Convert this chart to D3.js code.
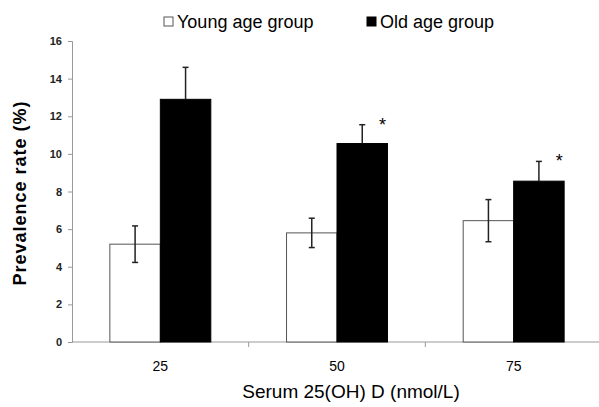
<!DOCTYPE html>
<html>
<head>
<meta charset="utf-8">
<script src="https://cdnjs.cloudflare.com/ajax/libs/d3/7.8.5/d3.min.js"></script>
<style>
body { margin: 0; background: #fff; }
text { font-family: Arial, "Liberation Sans", sans-serif; }
</style>
</head>
<body>
<div id="vis"></div>
<script>
// data
const doses = ["25", "50", "75"]
const groups = ["Young age group", "Old age group"]
const youngVals = [5.2, 5.8, 6.45]
const youngErr = [0.97, 0.78, 1.12]
const oldVals = [12.9, 10.55, 8.55]
const oldErr = [1.7, 1.0, 1.05]
const stars = [false, true, true]
const yTicks = [0, 2, 4, 6, 8, 10, 12, 14, 16]

const W = 599, H = 407
const margin = {left: 72, top: 41, right: -3, bottom: 65}

const svg = d3.select("#vis").append("svg")
    .attr("width", W).attr("height", H)

const x = d3.scaleBand().domain(doses)
    .range([margin.left, W - margin.right])
const x1 = d3.scaleBand().domain(groups)
    .range([0, x.bandwidth()]).paddingOuter(0.75).paddingInner(0)
const y = d3.scaleLinear().domain([0, 16])
    .range([H - margin.bottom, margin.top])

// y axis
const yAxis = svg.append("g")
    .attr("transform", `translate(${margin.left},0)`)
    .call(d3.axisLeft(y).tickValues(yTicks).tickSize(4).tickPadding(6))
yAxis.select(".domain").attr("stroke", "#999")
yAxis.selectAll(".tick line").attr("stroke", "#999")
yAxis.selectAll("text").attr("font-size", 11).attr("font-weight", "bold").attr("fill", "#222")

// x axis
svg.append("line")
    .attr("x1", margin.left).attr("x2", W)
    .attr("y1", y(0)).attr("y2", y(0))
    .attr("stroke", "#999")
svg.selectAll(".xtick").data(doses.slice(1)).enter().append("line")
    .attr("x1", d => x(d)).attr("x2", d => x(d))
    .attr("y1", y(0)).attr("y2", y(0) + 5)
    .attr("stroke", "#999")
svg.selectAll(".xlab").data(doses).enter().append("text")
    .attr("x", d => x(d) + x.bandwidth() / 2)
    .attr("y", y(0) + 29)
    .attr("text-anchor", "middle")
    .attr("font-size", 14)
    .attr("fill", "#000")
    .text(d => d)

const rows = doses.map((d, i) => ({
    dose: d,
    bars: [
        {g: groups[0], v: youngVals[i], e: youngErr[i], both: true},
        {g: groups[1], v: oldVals[i], e: oldErr[i], both: false}
    ],
    star: stars[i]
}))

const grp = svg.selectAll(".grp").data(rows).enter().append("g")
    .attr("transform", d => `translate(${x(d.dose)},0)`)

grp.selectAll("rect").data(d => d.bars).enter().append("rect")
    .attr("x", d => x1(d.g))
    .attr("width", x1.bandwidth())
    .attr("y", d => y(d.v))
    .attr("height", d => y(0) - y(d.v))
    .attr("fill", (d, i) => i === 0 ? "#fff" : "#000")
    .attr("stroke", (d, i) => i === 0 ? "#555" : "#000")
    .attr("stroke-width", 1)

// error bars
const eb = grp.selectAll(".eb").data(d => d.bars).enter().append("g")
eb.append("line")
    .attr("x1", d => x1(d.g) + x1.bandwidth() / 2)
    .attr("x2", d => x1(d.g) + x1.bandwidth() / 2)
    .attr("y1", d => y(d.v + d.e))
    .attr("y2", d => d.both ? y(d.v - d.e) : y(d.v))
    .attr("stroke", "#222").attr("stroke-width", 1.5)
eb.append("line")
    .attr("x1", d => x1(d.g) + x1.bandwidth() / 2 - 3)
    .attr("x2", d => x1(d.g) + x1.bandwidth() / 2 + 3)
    .attr("y1", d => y(d.v + d.e)).attr("y2", d => y(d.v + d.e))
    .attr("stroke", "#222").attr("stroke-width", 1.5)
eb.filter(d => d.both).append("line")
    .attr("x1", d => x1(d.g) + x1.bandwidth() / 2 - 3)
    .attr("x2", d => x1(d.g) + x1.bandwidth() / 2 + 3)
    .attr("y1", d => y(d.v - d.e)).attr("y2", d => y(d.v - d.e))
    .attr("stroke", "#222").attr("stroke-width", 1.5)

// significance stars
grp.filter(d => d.star).append("text")
    .attr("x", d => x1(groups[1]) + x1.bandwidth() - 5)
    .attr("y", d => y(d.bars[1].v + d.bars[1].e) + 6)
    .attr("text-anchor", "middle")
    .attr("font-size", 18)
    .text("*")

// legend
const legend = svg.append("g")
const legX = [164, 367]
groups.forEach((g, i) => {
    legend.append("rect")
        .attr("x", legX[i]).attr("y", 17)
        .attr("width", 9).attr("height", 9)
        .attr("fill", i === 0 ? "#fff" : "#000")
        .attr("stroke", i === 0 ? "#555" : "#000")
    legend.append("text")
        .attr("x", legX[i] + 13).attr("y", 28)
        .attr("font-size", 18)
        .attr("fill", "#000")
        .text(g)
})

// axis titles
svg.append("text")
    .attr("transform", `translate(26,193) rotate(-90)`)
    .attr("text-anchor", "middle")
    .attr("font-size", 18)
    .attr("font-weight", "bold")
    .attr("letter-spacing", 1)
    .attr("fill", "#000")
    .text("Prevalence rate (%)")
svg.append("text")
    .attr("x", 351).attr("y", 398)
    .attr("text-anchor", "middle")
    .attr("font-size", 19)
    .attr("fill", "#000")
    .text("Serum 25(OH) D (nmol/L)")
</script>
</body>
</html>
